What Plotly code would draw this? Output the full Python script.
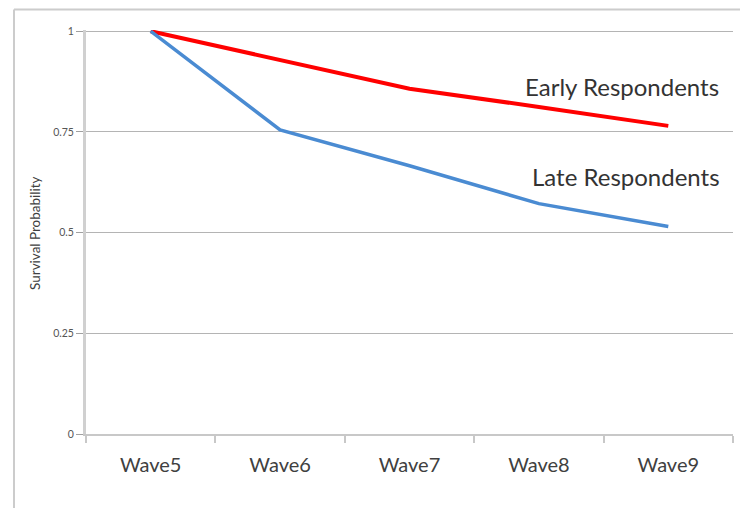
import plotly.graph_objects as go

waves = ["Wave5", "Wave6", "Wave7", "Wave8", "Wave9"]
early = [1.0, 0.928, 0.857, 0.812, 0.765]
late = [1.0, 0.755, 0.666, 0.572, 0.515]
y_ticks = [0, 0.25, 0.5, 0.75, 1]
y_tick_labels = ["0", "0.25", "0.5", "0.75", "1"]

# page body has an 8px margin; figure sized to fit the window
OFF = 8
W, H = 740, 500
L, R, T, B = 78, 15, 22, 74
pw = W - L - R
ph = H - T - B


def xp(sx):
    return (sx - OFF - L) / pw


def yp(sy):
    return (H - B - (sy - OFF)) / ph


fig = go.Figure()
fig.add_trace(go.Scatter(x=waves, y=early, mode="lines",
                         line=dict(color="#ff0000", width=4), name="Early Respondents"))
fig.add_trace(go.Scatter(x=waves, y=late, mode="lines",
                         line=dict(color="#4a8bd2", width=3.5), name="Late Respondents"))

font = "Lato, 'Open Sans', sans-serif"

fig.update_layout(
    width=W, height=H,
    margin=dict(l=L, r=R, t=T, b=B, autoexpand=False),
    paper_bgcolor="white", plot_bgcolor="white",
    showlegend=False,
    font=dict(family=font, color="#404040"),
    xaxis=dict(
        type="category", range=[-0.5, 4.5],
        showline=True, linecolor="#c8c8c8", linewidth=2,
        ticks="outside", tickson="boundaries", ticklen=7, tickcolor="#c8c8c8", tickwidth=2,
        showgrid=False, tickfont=dict(size=20, color="#404040"),
        ticklabelstandoff=12,
        fixedrange=True,
    ),
    yaxis=dict(
        range=[0, 1.003], tickvals=y_ticks, ticktext=y_tick_labels,
        showline=True, linecolor="#d0d0d0", linewidth=3,
        ticks="outside", ticklen=7, tickcolor="#a0a0a0", tickwidth=1,
        showgrid=True, gridcolor="#b4b4b4", gridwidth=1,
        zeroline=False, tickfont=dict(size=10.5, color="#555555"),
        fixedrange=True,
    ),
    annotations=[
        dict(text="Survival Probability", textangle=-90, xref="paper", yref="paper",
             x=xp(35), y=yp(233), xanchor="center", yanchor="middle", showarrow=False,
             font=dict(size=13.5, color="#404040")),
        dict(text="Early Respondents", xref="paper", yref="paper",
             x=xp(721), y=yp(86), xanchor="right", yanchor="middle",
             showarrow=False, font=dict(size=24, color="#333333")),
        dict(text="Late Respondents", xref="paper", yref="paper",
             x=xp(722), y=yp(176), xanchor="right", yanchor="middle",
             showarrow=False, font=dict(size=24, color="#333333")),
    ],
    shapes=[
        dict(type="line", xref="paper", yref="paper",
             x0=xp(14), x1=xp(800), y0=yp(9.5), y1=yp(9.5),
             line=dict(color="#cccccc", width=2)),
        dict(type="line", xref="paper", yref="paper",
             x0=xp(14), x1=xp(14), y0=yp(9.5), y1=yp(560),
             line=dict(color="#cccccc", width=2)),
    ],
)

fig.write_html("out.html")
